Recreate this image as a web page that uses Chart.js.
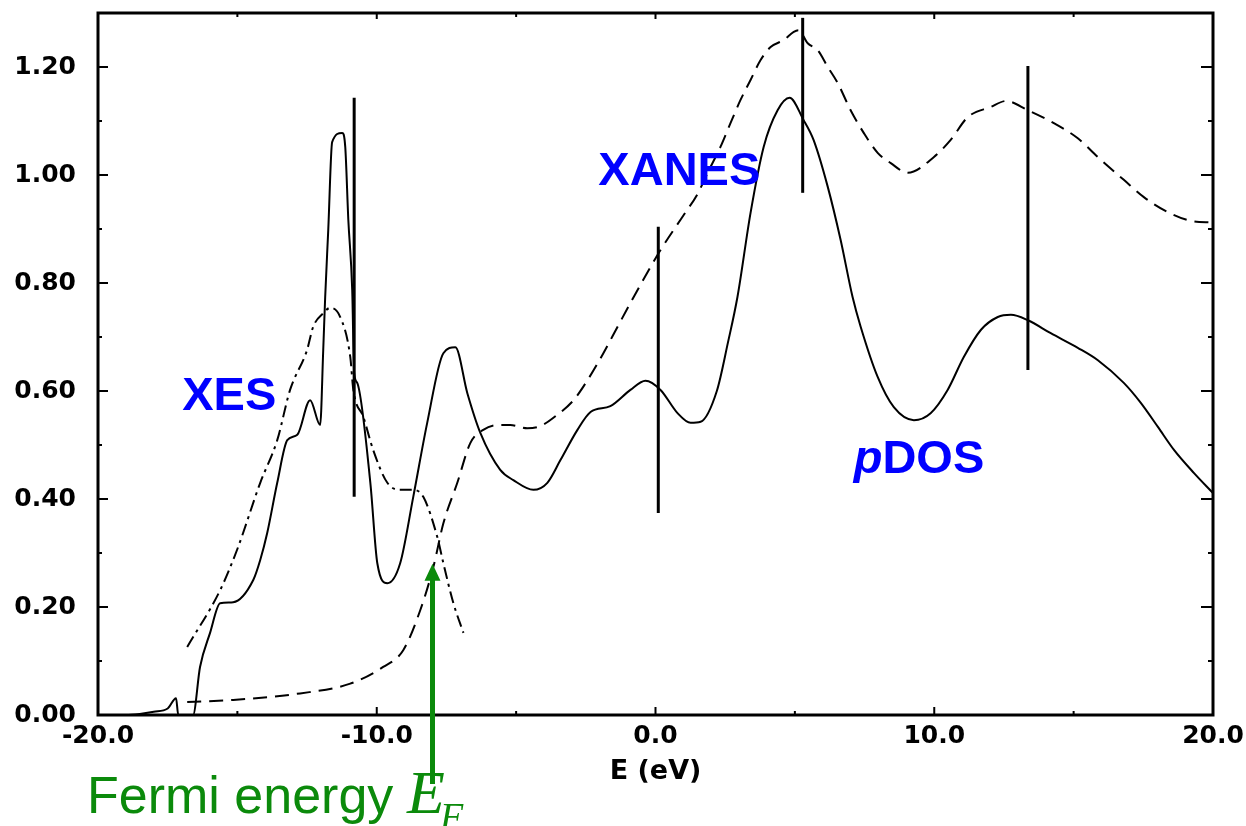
<!DOCTYPE html>
<html>
<head>
<meta charset="utf-8">
<script src="https://cdn.jsdelivr.net/npm/chart.js@4.4.1/dist/chart.umd.min.js"></script>
<style>
  html, body { margin: 0; padding: 0; background: #fff; }
</style>
</head>
<body>
<canvas id="spectra" width="1246" height="826"></canvas>
<script>
// energy axis (eV) and intensities for each curve
const xesE   = [-16.80, -15.62, -15.01, -14.18, -13.57, -13.11, -12.50, -12.28, -11.92, -11.67, -11.31, -10.95,
                -10.84, -10.48, -10.13, -9.62, -9.16, -8.69, -8.33, -7.83, -7.61, -7.25, -6.89];
const xesI   = [0.126, 0.231, 0.306, 0.430, 0.509, 0.602, 0.676, 0.719, 0.744, 0.754, 0.737, 0.663,
                0.602, 0.552, 0.491, 0.430, 0.417, 0.417, 0.404, 0.330, 0.281, 0.207, 0.152];

const xanesE = [-16.80, -15.15, -12.75, -10.95, -9.77, -9.05, -8.44, -7.97, -7.61, -7.11, -6.64, -6.18,
                -5.67, -5.21, -4.60, -4.13, -3.52, -2.94, -2.44, -1.87, -1.36, -0.90, 0.18, 1.00,
                1.51, 1.87, 2.33, 2.69, 3.05, 3.41, 3.77, 4.13, 4.60, 4.96, 5.13, 5.46,
                5.82, 6.18, 6.54, 7.00, 7.47, 7.97, 8.44, 9.05, 9.98, 10.59, 11.20, 12.03,
                12.57, 13.36, 14.29, 15.15, 15.87, 16.80, 17.52, 18.39, 19.21, 20.00];
const xanesI = [0.024, 0.028, 0.040, 0.058, 0.089, 0.120, 0.194, 0.274, 0.355, 0.430, 0.504, 0.528,
                0.537, 0.537, 0.531, 0.535, 0.556, 0.583, 0.620, 0.670, 0.719, 0.763, 0.861, 0.925,
                0.965, 1.004, 1.052, 1.096, 1.139, 1.176, 1.213, 1.237, 1.250, 1.265, 1.268, 1.244,
                1.231, 1.200, 1.170, 1.120, 1.078, 1.041, 1.022, 1.004, 1.033, 1.065, 1.107, 1.126,
                1.137, 1.120, 1.096, 1.068, 1.033, 0.991, 0.959, 0.931, 0.915, 0.912];

const pdosE  = [-20.0, -19.0, -18.5, -18.0, -17.5, -17.2, -17.12, -16.59, -16.34, -15.98, -15.62, -15.15,
                -14.43, -14.18, -13.93, -13.57, -13.21, -12.85, -12.39, -12.03, -11.92, -11.85, -11.74, -11.60,
                -11.24, -11.13, -11.02, -10.88, -10.81, -10.70, -10.23, -9.98, -9.62, -9.16, -8.69, -8.19,
                -7.61, -7.18, -6.75, -6.28, -5.57, -5.10, -4.38, -3.88, -3.41, -2.80, -2.33, -1.62,
                -0.90, -0.36, 0.18, 0.79, 1.26, 1.62, 2.20, 2.60, 2.94, 3.41, 3.88, 4.38,
                4.81, 5.31, 5.67, 6.18, 6.64, 7.07, 7.36, 7.97, 8.55, 9.27, 9.87, 10.48,
                11.06, 11.67, 12.28, 12.75, 13.36, 14.18, 15.15, 15.87, 16.80, 17.41, 18.03, 18.60,
                19.32, 20.00];
const pdosI  = [0.000, 0.000, 0.002, 0.006, 0.012, 0.031, 0.000, 0.000, 0.089, 0.152, 0.207, 0.209,
                0.250, 0.287, 0.337, 0.430, 0.509, 0.519, 0.583, 0.537, 0.676, 0.774, 0.898, 1.061,
                1.078, 1.052, 0.917, 0.787, 0.633, 0.615, 0.430, 0.281, 0.244, 0.281, 0.404, 0.541,
                0.670, 0.681, 0.596, 0.522, 0.454, 0.435, 0.417, 0.430, 0.472, 0.528, 0.561, 0.572,
                0.602, 0.619, 0.602, 0.559, 0.541, 0.543, 0.600, 0.690, 0.774, 0.930, 1.052, 1.120,
                1.143, 1.102, 1.065, 0.978, 0.880, 0.774, 0.719, 0.626, 0.570, 0.546, 0.559, 0.602,
                0.663, 0.713, 0.737, 0.741, 0.731, 0.707, 0.680, 0.657, 0.615, 0.578, 0.533, 0.491,
                0.448, 0.411];

// vertical peak markers
const markerE    = [-10.81, 0.10, 5.28, 13.36];
const markerLow  = [0.404, 0.374, 0.967, 0.639];
const markerHigh = [1.143, 0.904, 1.291, 1.202];

// Fermi level arrow
const fermiE = -8.0;
const fermiTip = 0.28;

// axis ticks
const xTicks = [-20, -10, 0, 10, 20];
const xMinor = [-15, -5, 5, 15];
const yTicks = [0, 0.2, 0.4, 0.6, 0.8, 1.0, 1.2];
const yMinor = [0.1, 0.3, 0.5, 0.7, 0.9, 1.1];

const SANS = '"Liberation Sans", Arial, sans-serif';
const WIDE = '"DejaVu Sans", sans-serif';
const SERIF = '"Liberation Serif", "Times New Roman", serif';
Chart.defaults.font.family = WIDE;

const pts = (xs, ys) => xs.map((x, i) => ({ x, y: ys[i] }));

const curve = (data, dash) => ({
  data, borderColor: '#000', borderWidth: 2, borderDash: dash,
  pointRadius: 0, cubicInterpolationMode: 'monotone', fill: false
});

const datasets = [
  curve(pts(pdosE, pdosI), []),
  curve(pts(xanesE, xanesI), [14, 8]),
  curve(pts(xesE, xesI), [12, 5, 3, 5])
];
markerE.forEach((e, i) => {
  datasets.push({
    data: [{ x: e, y: markerLow[i] }, { x: e, y: markerHigh[i] }],
    borderColor: '#000', borderWidth: 3, pointRadius: 0
  });
});

// keep the plot box fixed: no extra room for overhanging tick labels
const noPad = s => {
  s.paddingTop = s.paddingBottom = s.paddingLeft = s.paddingRight = 0;
};

// box frame with inward ticks on all four sides
const frame = {
  id: 'frame',
  afterDatasetsDraw(chart) {
    const { ctx, chartArea: a, scales: { x, y } } = chart;
    ctx.save();
    ctx.strokeStyle = '#000';
    ctx.lineWidth = 3;
    ctx.strokeRect(a.left, a.top, a.right - a.left, a.bottom - a.top);

    ctx.lineWidth = 2;
    ctx.beginPath();
    const xt = (v, bot, top) => {
      const px = x.getPixelForValue(v);
      ctx.moveTo(px, a.bottom); ctx.lineTo(px, a.bottom - bot);
      ctx.moveTo(px, a.top); ctx.lineTo(px, a.top + top);
    };
    const yt = (v, lft, rgt) => {
      const py = y.getPixelForValue(v);
      ctx.moveTo(a.left, py); ctx.lineTo(a.left + lft, py);
      ctx.moveTo(a.right, py); ctx.lineTo(a.right - rgt, py);
    };
    xTicks.slice(1, -1).forEach(v => xt(v, 8, 6));
    xMinor.forEach(v => xt(v, 4, 4));
    yTicks.slice(1).forEach(v => yt(v, 10, 12));
    yMinor.forEach(v => yt(v, 4, 5));
    ctx.stroke();
    ctx.restore();
  }
};

// curve names and the Fermi level marker
const labels = {
  id: 'labels',
  afterDraw(chart) {
    const { ctx, scales: { x, y } } = chart;
    ctx.save();
    ctx.fillStyle = '#0000ff';
    ctx.textBaseline = 'alphabetic';
    ctx.font = 'bold 47px ' + SANS;
    ctx.fillText('XES', x.getPixelForValue(-16.98), y.getPixelForValue(0.565));
    ctx.fillText('XANES', x.getPixelForValue(-2.05), y.getPixelForValue(0.981));
    const px = x.getPixelForValue(7.11), py = y.getPixelForValue(0.448);
    ctx.font = 'italic bold 47px ' + SANS;
    ctx.fillText('p', px, py);
    const pw = ctx.measureText('p').width;
    ctx.font = 'bold 47px ' + SANS;
    ctx.fillText('DOS', px + pw, py);

    const green = '#0b8a0b';
    const ax = x.getPixelForValue(fermiE);
    const tip = y.getPixelForValue(fermiTip);
    ctx.strokeStyle = green;
    ctx.fillStyle = green;
    ctx.lineWidth = 5;
    ctx.beginPath();
    ctx.moveTo(ax, tip + 14);
    ctx.lineTo(ax, 784);
    ctx.stroke();
    ctx.beginPath();
    ctx.moveTo(ax, tip);
    ctx.lineTo(ax - 8, tip + 17);
    ctx.lineTo(ax + 8, tip + 17);
    ctx.closePath();
    ctx.fill();

    ctx.font = '52px ' + SANS;
    ctx.fillText('Fermi energy', 87, 813);
    ctx.font = 'italic 62px ' + SERIF;
    ctx.fillText('E', 407, 813);
    ctx.font = 'italic 38px ' + SERIF;
    ctx.fillText('F', 440, 829);
    ctx.restore();
  }
};

new Chart(document.getElementById('spectra'), {
  type: 'line',
  data: { datasets },
  options: {
    responsive: false,
    animation: false,
    devicePixelRatio: 1,
    layout: { padding: { top: 13, right: 33, left: 0, bottom: 0 } },
    plugins: { legend: { display: false }, tooltip: { enabled: false } },
    scales: {
      x: {
        type: 'linear', min: -20, max: 20,
        afterBuildTicks: s => { s.ticks = xTicks.map(value => ({ value })); },
        afterFit: s => { s.height = 111; noPad(s); },
        grid: { display: false, drawTicks: false },
        border: { display: false },
        ticks: {
          color: '#000', padding: 6, maxRotation: 0, autoSkip: false,
          font: { size: 25, weight: 'bold' },
          callback: v => v.toFixed(1)
        },
        title: {
          display: true, text: 'E (eV)', color: '#000',
          font: { size: 27, weight: 'bold' },
          padding: { top: 0, bottom: 38 }
        }
      },
      y: {
        type: 'linear', min: 0, max: 1.3,
        afterBuildTicks: s => { s.ticks = yTicks.map(value => ({ value })); },
        afterFit: s => { s.width = 98; noPad(s); },
        grid: { display: false, drawTicks: false },
        border: { display: false },
        ticks: {
          color: '#000', padding: 22,
          font: { size: 25, weight: 'bold' },
          callback: v => v.toFixed(2)
        }
      }
    }
  },
  plugins: [frame, labels]
});
</script>
</body>
</html>
